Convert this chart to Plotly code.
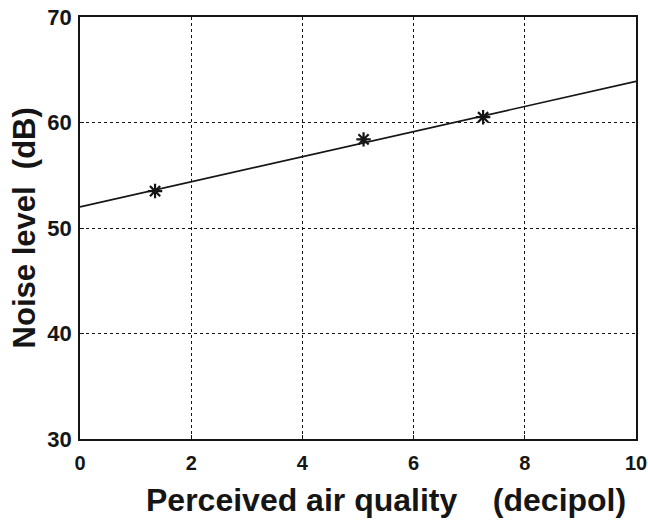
import plotly.graph_objects as go

# Data
pts_x = [1.35, 5.1, 7.25]
pts_y = [53.5, 58.4, 60.5]
fit_x = [0, 10]
fit_y = [52.0, 63.9]

x_ticks = [0, 2, 4, 6, 8, 10]
y_ticks = [30, 40, 50, 60, 70]

font_fam = "Liberation Sans, Arial, sans-serif"
ink = "#151515"

fig = go.Figure()
fig.add_trace(go.Scatter(x=fit_x, y=fit_y, mode="lines",
                         line=dict(color=ink, width=1.6), showlegend=False))
fig.add_trace(go.Scatter(x=pts_x, y=pts_y, mode="markers",
                         marker=dict(symbol="asterisk-open", size=12, color=ink,
                                     line=dict(color=ink, width=2.2)),
                         showlegend=False))

axis_common = dict(showline=True, linecolor=ink, linewidth=1.6, mirror=True,
                   showgrid=True, gridcolor=ink, griddash="dot", gridwidth=1.2,
                   ticks="inside", ticklen=4, tickcolor=ink, zeroline=False,
                   ticklabeloverflow="allow", automargin=False)

fig.update_xaxes(range=[0, 10], tickvals=x_ticks, ticklabelstandoff=5,
                 tickfont=dict(family=font_fam, size=20, color=ink, weight="bold"),
                 **axis_common)
fig.update_yaxes(range=[30, 70], tickvals=y_ticks, ticklabelstandoff=2,
                 tickfont=dict(family=font_fam, size=22, color=ink, weight="bold"),
                 **axis_common)

fig.add_annotation(text="Perceived air quality    (decipol)", xref="paper", yref="paper",
                   x=0.55, y=-0.192, xanchor="center", yanchor="bottom",
                   showarrow=False,
                   font=dict(family=font_fam, size=32, color=ink, weight="bold"))
fig.add_annotation(text="Noise level  (dB)", xref="paper", yref="paper",
                   x=-0.1, y=0.5, xanchor="center", yanchor="middle",
                   textangle=-90, showarrow=False,
                   font=dict(family=font_fam, size=31, color=ink, weight="bold"))

fig.update_layout(width=648, height=521,
                  margin=dict(l=80, r=12, t=17, b=82),
                  plot_bgcolor="white", paper_bgcolor="white")

# remove the default 8px page margin so the figure fills the window exactly
fig.write_html("out.html", config={"displayModeBar": False},
               post_script="document.body.style.margin='0';")
